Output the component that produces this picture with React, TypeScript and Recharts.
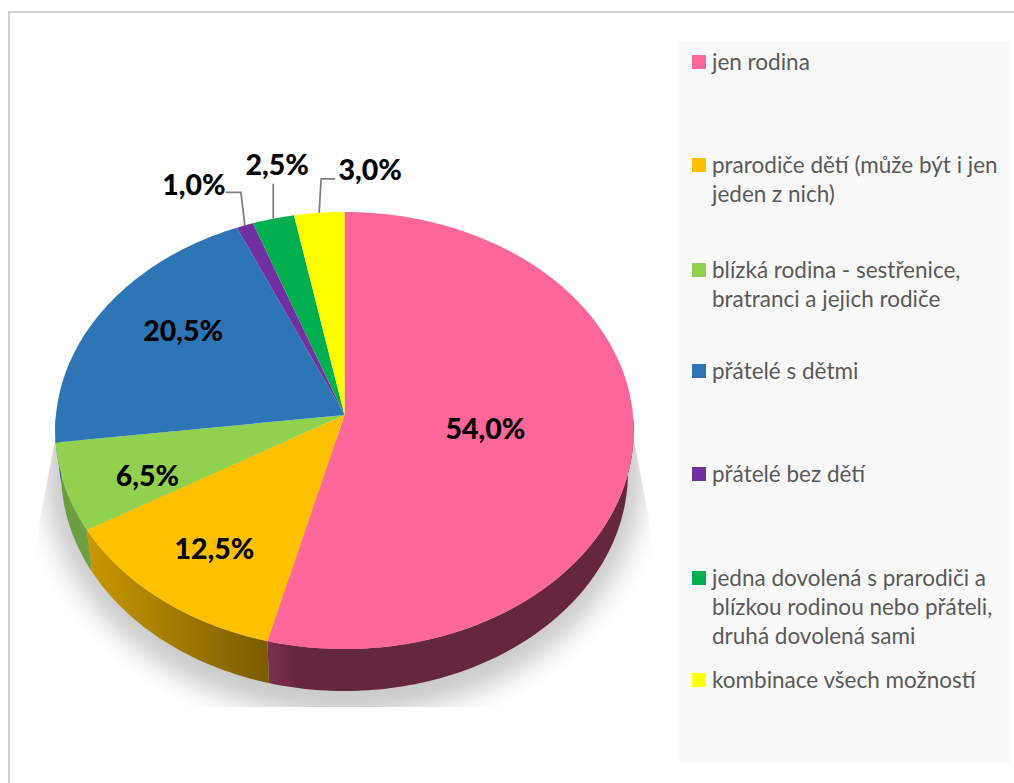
import React from "react";
import { PieChart, Pie, Legend } from "recharts";

const categories = [
  "jen rodina",
  "prarodiče dětí (může být i jen jeden z nich)",
  "blízká rodina - sestřenice, bratranci a jejich rodiče",
  "přátelé s dětmi",
  "přátelé bez dětí",
  "jedna dovolená s prarodiči a blízkou rodinou nebo přáteli, druhá dovolená sami",
  "kombinace všech možností",
];
const shares = [54.0, 12.5, 6.5, 20.5, 1.0, 2.5, 3.0];
const colors = ["#FF6699", "#FFC000", "#92D050", "#2E75B6", "#7030A0", "#00B050", "#FFFF00"];
const sideFrom = ["#7c3050", "#c99800", "#6a9c3e", "#23588a", "#54247a", "#00843c", "#bfbf00"];
const sideTo = ["#65273d", "#7a5c00", "#6f9f3f", "#23588a", "#54247a", "#00843c", "#bfbf00"];
const sideFade = [0.08, 1, 1, 1, 1, 1, 1];

// placement of the value labels: radial fraction (1 = on the rim) plus a nudge
const labelRadial = [0.49, 0.72, 0.71, 0.65, 1, 1, 1];
const labelNudgeX = [0, 0, 0, -2, -51, 4, 51];
const labelNudgeY = [0, 2, 9, -17, -41, -55, -44];
const leaderElbowX = [0, 0, 0, 0, -4, 0, 2];
const leaderElbowY = [0, 0, 0, 0, -33, -35, -34];
const leaderEndX = [0, 0, 0, 0, -15, 0, 14];
const legendRowCenters = [62, 165, 270, 371, 474, 578, 680];

const data = categories.map((name, i) => ({ name, value: shares[i], fill: colors[i], idx: i }));

const W = 1014;
const H = 783;
const CX = 344.5;
const CY = 415;
const R = 288.5;
const PERSP = -0.0709;
const TILT = 188;
const DEPTH = 42;
const SHRINK = 0.98;

const project = (deg: number, f = 1) => {
  const a = (deg * Math.PI) / 180;
  const u = Math.cos(a) * f;
  const v = -Math.sin(a) * f;
  const d = 1 + PERSP * v;
  return { x: (R * u) / d, y: (TILT * v + CY) / d };
};

const arcPoints = (a0: number, a1: number, cx: number, f = 1, s = 1, dy = 0) => {
  const n = Math.max(2, Math.ceil(Math.abs(a1 - a0)));
  const pts: string[] = [];
  for (let i = 0; i <= n; i++) {
    const p = project(a0 + ((a1 - a0) * i) / n, f);
    pts.push(`${(cx + p.x * s).toFixed(2)},${(p.y + dy).toFixed(2)}`);
  }
  return pts;
};

const SideSector = (props: any) => {
  const { cx, startAngle, endAngle, idx } = props;
  // only the near half of the disc shows its wall
  const hi = Math.min(startAngle, -1);
  const lo = Math.max(endAngle, -181);
  if (hi <= lo) return null;
  const top = arcPoints(hi, lo, cx);
  const bottom = arcPoints(lo, hi, cx, 1, SHRINK, DEPTH);
  return <polygon points={[...top, ...bottom].join(" ")} fill={`url(#side${idx})`} />;
};

const TopSector = (props: any) => {
  const { cx, startAngle, endAngle, fill } = props;
  const rim = arcPoints(startAngle, endAngle, cx);
  const apex = `${cx},${CY}`;
  return <polygon points={[apex, ...rim].join(" ")} fill={fill} />;
};

const renderLabel = (props: any) => {
  const { cx, midAngle, index, value } = props;
  const p = project(midAngle, labelRadial[index]);
  const x = cx + p.x;
  const y = p.y;
  const hasLeader = labelRadial[index] === 1;
  const text = `${value.toFixed(1).replace(".", ",")}%`;
  return (
    <g key={index}>
      {hasLeader && (
        <polyline
          points={`${x},${y} ${x + leaderElbowX[index]},${y + leaderElbowY[index]} ${x + leaderElbowX[index] + leaderEndX[index]},${y + leaderElbowY[index]}`}
          fill="none"
          stroke="#7f7f7f"
          strokeWidth={1.75}
        />
      )}
      <text
        x={x + labelNudgeX[index]}
        y={y + labelNudgeY[index]}
        textAnchor="middle"
        dominantBaseline="central"
        fontFamily="Lato"
        fontWeight={900}
        fontSize={28.5}
        fill="#000"
      >
        {text}
      </text>
    </g>
  );
};

const LegendContent = ({ payload }: any) => (
  <div style={{ position: "relative", width: 331, height: 722, background: "#f9f9f9" }}>
    {(payload || [])
      .filter((e: any) => e.type !== "none")
      .map((e: any, i: number) => (
        <div
          key={i}
          style={{
            position: "absolute",
            left: 13,
            top: legendRowCenters[i] - 41 - 7,
            display: "flex",
            alignItems: "flex-start",
          }}
        >
          <span style={{ width: 14, height: 14, background: colors[i], flex: "none" }} />
          <span
            style={{
              marginLeft: 6,
              marginTop: -8,
              width: 297,
              fontFamily: "Lato",
              fontSize: 22.5,
              lineHeight: "29px",
              color: "#595959",
            }}
          >
            {e.value}
          </span>
        </div>
      ))}
  </div>
);

export default function App() {
  return (
    <div style={{ position: "absolute", left: 0, top: 0, width: W, height: H, overflow: "hidden", background: "#fff" }}>
      <div
        style={{
          position: "absolute",
          left: 8,
          top: 11,
          width: 1010,
          height: 780,
          border: "2px solid #d0d0d0",
          boxSizing: "border-box",
        }}
      />
      <PieChart width={W} height={H} margin={{ top: 0, right: 0, bottom: 0, left: 0 }} style={{ position: "absolute", left: 0, top: 0 }}>
        <defs>
          <filter id="blur" x="-20%" y="-20%" width="140%" height="140%">
            <feGaussianBlur stdDeviation="13" />
          </filter>
          <clipPath id="shadowClip">
            <polygon points="55,440 38,530 38,707 651,707 651,530 634,440" />
          </clipPath>
          {sideFrom.map((c, i) => (
            <linearGradient key={i} id={`side${i}`} x1="0" y1="0" x2="1" y2="0">
              <stop offset="0" stopColor={c} />
              <stop offset={sideFade[i]} stopColor={sideTo[i]} />
            </linearGradient>
          ))}
        </defs>
        <g clipPath="url(#shadowClip)">
          <ellipse cx={344} cy={468} rx={300} ry={248} fill="#cacaca" filter="url(#blur)" />
        </g>
        <Pie
          data={data}
          dataKey="value"
          nameKey="name"
          cx={CX}
          cy={CY}
          outerRadius={R}
          startAngle={90}
          endAngle={-270}
          stroke="none"
          legendType="none"
          shape={SideSector}
          isAnimationActive={false}
        />
        <Pie
          data={data}
          dataKey="value"
          nameKey="name"
          cx={CX}
          cy={CY}
          outerRadius={R}
          startAngle={90}
          endAngle={-270}
          stroke="none"
          legendType="square"
          shape={TopSector}
          label={renderLabel}
          labelLine={false}
          isAnimationActive={false}
        />
        <Legend
          layout="vertical"
          itemSorter={null}
          content={<LegendContent />}
          wrapperStyle={{ position: "absolute", left: 679, top: 41, width: 331, height: 722 }}
        />
      </PieChart>
    </div>
  );
}
